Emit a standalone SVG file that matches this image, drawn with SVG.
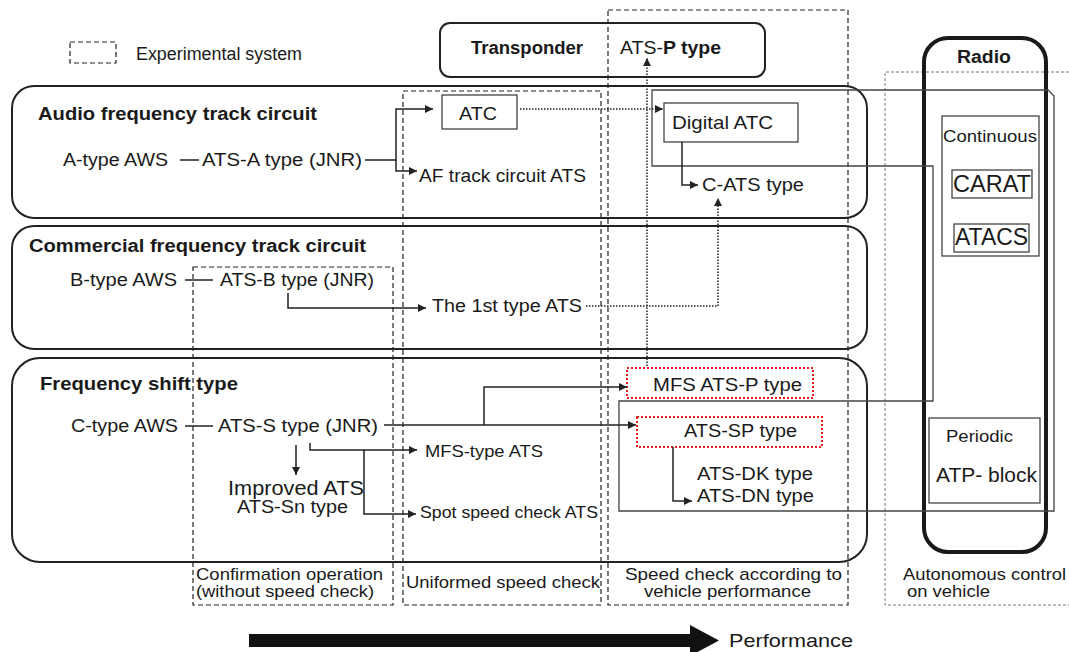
<svg xmlns="http://www.w3.org/2000/svg" width="1069" height="652" viewBox="0 0 1069 652">
  <style>
    text { font-family: "Liberation Sans", Arial, sans-serif; fill: #1a1a1a; }
    .t { font-size: 18px; }
    .s { font-size: 17px; }
    .h { font-size: 17.5px; font-weight: bold; }
    .row { fill: none; stroke: #222; stroke-width: 2; }
    .box { fill: none; stroke: #444; stroke-width: 1.3; }
    .col { fill: none; stroke: #222; stroke-width: 1.2; stroke-dasharray: 5 3; }
    .col4 { fill: none; stroke: #777; stroke-width: 1; stroke-dasharray: 3 2; }
    .red { fill: none; stroke: #e8191a; stroke-width: 2; stroke-dasharray: 2 2; }
    .ln { fill: none; stroke: #222; stroke-width: 1.5; }
    .dot { fill: none; stroke: #222; stroke-width: 1.5; stroke-dasharray: 1.5 1.5; }
  </style>
  <defs>
    <marker id="ah" viewBox="0 0 10 10" refX="10" refY="5" markerUnits="userSpaceOnUse" markerWidth="9" markerHeight="8" orient="auto">
      <path d="M0,0 L10,5 L0,10 z" fill="#222"/>
    </marker>
  </defs>

  <rect width="1069" height="652" fill="#fff"/>

  <!-- legend -->
  <g id="legend">
    <rect class="col" x="70" y="42" width="46" height="21"/>
    <text class="t" x="136" y="60" textLength="166" lengthAdjust="spacingAndGlyphs">Experimental system</text>
  </g>

  <!-- performance columns -->
  <g id="col-confirmation">
    <rect class="col" x="193" y="267" width="200" height="338"/>
    <text class="s" x="196" y="580" textLength="187" lengthAdjust="spacingAndGlyphs">Confirmation operation</text>
    <text class="s" x="196" y="597" textLength="178" lengthAdjust="spacingAndGlyphs">(without speed check)</text>
  </g>
  <g id="col-uniform">
    <rect class="col" x="403" y="91" width="198" height="514"/>
    <text class="s" x="406" y="588" textLength="194" lengthAdjust="spacingAndGlyphs">Uniformed speed check</text>
  </g>
  <g id="col-vehicle">
    <rect class="col" x="608" y="10" width="240" height="595"/>
    <text class="s" x="625" y="580" textLength="217" lengthAdjust="spacingAndGlyphs">Speed check according  to</text>
    <text class="s" x="644" y="597" textLength="167" lengthAdjust="spacingAndGlyphs">vehicle performance</text>
  </g>
  <g id="col-autonomous">
    <path class="col4" d="M1069,72 H885 V605 H1069"/>
    <text class="s" x="903" y="580" textLength="163" lengthAdjust="spacingAndGlyphs">Autonomous control</text>
    <text class="s" x="907" y="597" textLength="83" lengthAdjust="spacingAndGlyphs">on vehicle</text>
  </g>

  <!-- transponder -->
  <g id="transponder">
    <rect class="row" x="440" y="23" width="325" height="54" rx="10"/>
    <text class="h" x="471" y="54" textLength="112" lengthAdjust="spacingAndGlyphs">Transponder</text>
    <text class="t" x="620" y="54" textLength="101" lengthAdjust="spacingAndGlyphs">ATS-<tspan font-weight="bold">P type</tspan></text>
  </g>

  <!-- track circuit rows -->
  <g id="row-audio">
    <rect class="row" x="12" y="86" width="855" height="132" rx="22"/>
    <text class="h" x="38" y="120" textLength="279" lengthAdjust="spacingAndGlyphs">Audio frequency track circuit</text>
  </g>
  <g id="row-commercial">
    <rect class="row" x="12" y="226" width="855" height="123" rx="22"/>
    <text class="h" x="29" y="252" textLength="337" lengthAdjust="spacingAndGlyphs">Commercial frequency track circuit</text>
  </g>
  <g id="row-fshift">
    <rect class="row" x="12" y="358" width="855" height="204" rx="28"/>
    <text class="h" x="40" y="390" textLength="198" lengthAdjust="spacingAndGlyphs">Frequency shift type</text>
  </g>

  <!-- radio -->
  <g id="radio">
    <rect x="924" y="38" width="122" height="514" rx="24" fill="none" stroke="#1a1a1a" stroke-width="4"/>
    <text class="h" x="957" y="63" textLength="54" lengthAdjust="spacingAndGlyphs">Radio</text>
  </g>

  <!-- digital ATC family outline -->
  <g id="digital-family">
    <path class="box" d="M652,90 H1048 L1054,96 V511 H619 V401 H933 V166 H652 Z"/>
  </g>

  <g id="continuous">
    <rect class="box" x="942" y="116" width="97" height="140"/>
    <text class="s" x="943" y="142" textLength="94" lengthAdjust="spacingAndGlyphs">Continuous</text>
  </g>
  <g id="carat">
    <rect class="box" x="952" y="170" width="80" height="28"/>
    <text x="953" y="192" font-size="23" textLength="78" lengthAdjust="spacingAndGlyphs">CARAT</text>
  </g>
  <g id="atacs">
    <rect class="box" x="954" y="224" width="75" height="28"/>
    <text x="955" y="245" font-size="23" textLength="73" lengthAdjust="spacingAndGlyphs">ATACS</text>
  </g>
  <g id="periodic">
    <rect class="box" x="929" y="418" width="111" height="85"/>
    <text class="s" x="946" y="442" textLength="67" lengthAdjust="spacingAndGlyphs">Periodic</text>
    <text x="936" y="482" font-size="21" textLength="101" lengthAdjust="spacingAndGlyphs">ATP- block</text>
  </g>

  <!-- audio frequency systems -->
  <g id="a-aws"><text class="t" x="63" y="166" textLength="105" lengthAdjust="spacingAndGlyphs">A-type AWS</text></g>
  <g id="ats-a"><text class="t" x="202" y="166" textLength="160" lengthAdjust="spacingAndGlyphs">ATS-A type (JNR)</text></g>
  <g id="atc">
    <rect class="box" x="442" y="95" width="75" height="34"/>
    <text x="459" y="120" font-size="19" textLength="38" lengthAdjust="spacingAndGlyphs">ATC</text>
  </g>
  <g id="af-ats"><text class="t" x="419" y="182" textLength="167" lengthAdjust="spacingAndGlyphs">AF track circuit ATS</text></g>
  <g id="digital-atc">
    <rect class="box" x="664" y="103" width="134" height="39"/>
    <text x="672" y="129" font-size="19" textLength="101" lengthAdjust="spacingAndGlyphs">Digital ATC</text>
  </g>
  <g id="c-ats"><text class="t" x="702" y="191" textLength="102" lengthAdjust="spacingAndGlyphs">C-ATS type</text></g>

  <!-- commercial frequency systems -->
  <g id="b-aws"><text class="t" x="70" y="286" textLength="107" lengthAdjust="spacingAndGlyphs">B-type AWS</text></g>
  <g id="ats-b"><text class="t" x="220" y="286" textLength="154" lengthAdjust="spacingAndGlyphs">ATS-B type (JNR)</text></g>
  <g id="first-ats"><text class="t" x="432" y="312" textLength="150" lengthAdjust="spacingAndGlyphs">The 1st type ATS</text></g>

  <!-- frequency shift systems -->
  <g id="c-aws"><text class="t" x="71" y="432" textLength="107" lengthAdjust="spacingAndGlyphs">C-type AWS</text></g>
  <g id="ats-s"><text class="t" x="218" y="432" textLength="160" lengthAdjust="spacingAndGlyphs">ATS-S type (JNR)</text></g>
  <g id="improved-ats">
    <text x="228" y="495" font-size="21" textLength="136" lengthAdjust="spacingAndGlyphs">Improved ATS</text>
    <text class="t" x="237" y="513" textLength="111" lengthAdjust="spacingAndGlyphs">ATS-Sn type</text>
  </g>
  <g id="mfs-ats"><text class="s" x="425" y="457" textLength="118" lengthAdjust="spacingAndGlyphs">MFS-type ATS</text></g>
  <g id="spot-ats"><text class="s" x="420" y="518" textLength="178" lengthAdjust="spacingAndGlyphs">Spot speed check ATS</text></g>
  <g id="mfs-ats-p">
    <rect class="red" x="627" y="368" width="186" height="30"/>
    <text class="t" x="653" y="391" textLength="149" lengthAdjust="spacingAndGlyphs">MFS ATS-P type</text>
  </g>
  <g id="ats-sp">
    <rect class="red" x="637" y="417" width="185" height="30"/>
    <text class="t" x="684" y="437" textLength="113" lengthAdjust="spacingAndGlyphs">ATS-SP type</text>
  </g>
  <g id="ats-dk-dn">
    <text class="t" x="697" y="480" textLength="116" lengthAdjust="spacingAndGlyphs">ATS-DK type</text>
    <text class="t" x="697" y="502" textLength="117" lengthAdjust="spacingAndGlyphs">ATS-DN type</text>
  </g>

  <!-- connectors -->
  <g id="connectors">
    <path class="ln" d="M180,160 H199"/>
    <path class="ln" d="M185,280 H213"/>
    <path class="ln" d="M185,426 H213"/>
    <path class="ln" d="M365,160 H396 V109 H433" marker-end="url(#ah)"/>
    <path class="ln" d="M396,160 V171 H417" marker-end="url(#ah)"/>
    <path class="dot" d="M520,109 H663" marker-end="url(#ah)"/>
    <path class="ln" d="M682,142 V185 H698" marker-end="url(#ah)"/>
    <path class="dot" d="M586,306 H718 V198" marker-end="url(#ah)"/>
    <path class="dot" d="M647,366 V58" marker-end="url(#ah)"/>
    <path class="ln" d="M288,293 V308 H426" marker-end="url(#ah)"/>
    <path class="ln" d="M384,425 H636" marker-end="url(#ah)"/>
    <path class="ln" d="M484,425 V387 H627" marker-end="url(#ah)"/>
    <path class="ln" d="M310,443 V450 H417" marker-end="url(#ah)"/>
    <path class="ln" d="M364,450 V514 H416" marker-end="url(#ah)"/>
    <path class="ln" d="M296,445 V475" marker-end="url(#ah)"/>
    <path class="ln" d="M673,447 V501 H692" marker-end="url(#ah)"/>
  </g>

  <!-- performance axis -->
  <g id="performance">
    <rect x="249" y="634" width="443" height="13" fill="#111"/>
    <polygon points="690,625 719,640.5 690,656" fill="#111"/>
    <text x="729" y="647" font-size="19" textLength="124" lengthAdjust="spacingAndGlyphs">Performance</text>
  </g>
</svg>
